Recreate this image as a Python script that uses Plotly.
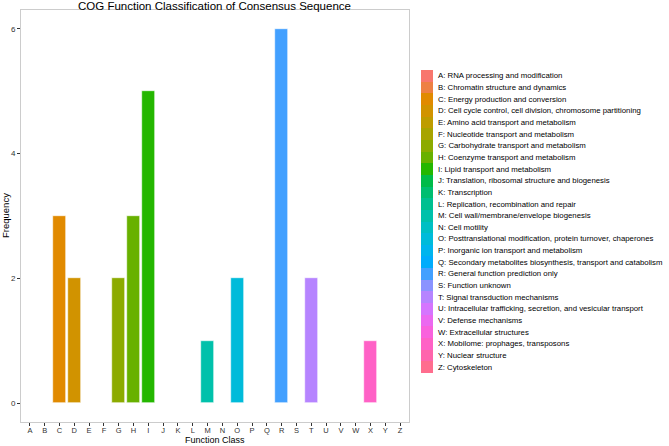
import math
import plotly.graph_objects as go

# ---- data ----
classes = list("ABCDEFGHIJKLMNOPQRSTUVWXYZ")
frequency = [0, 0, 3, 2, 0, 0, 2, 3, 5, 0, 0, 0, 1, 0, 2, 0, 0, 6, 0, 2, 0, 0, 0, 1, 0, 0]
descriptions = [
    "RNA processing and modification",
    "Chromatin structure and dynamics",
    "Energy production and conversion",
    "Cell cycle control, cell division, chromosome partitioning",
    "Amino acid transport and metabolism",
    "Nucleotide transport and metabolism",
    "Carbohydrate transport and metabolism",
    "Coenzyme transport and metabolism",
    "Lipid transport and metabolism",
    "Translation, ribosomal structure and biogenesis",
    "Transcription",
    "Replication, recombination and repair",
    "Cell wall/membrane/envelope biogenesis",
    "Cell motility",
    "Posttranslational modification, protein turnover, chaperones",
    "Inorganic ion transport and metabolism",
    "Secondary metabolites biosynthesis, transport and catabolism",
    "General function prediction only",
    "Function unknown",
    "Signal transduction mechanisms",
    "Intracellular trafficking, secretion, and vesicular transport",
    "Defense mechanisms",
    "Extracellular structures",
    "Mobilome: prophages, transposons",
    "Nuclear structure",
    "Cytoskeleton",
]
y_ticks = [0, 2, 4, 6]
legend_labels = [f"{c}: {d}" for c, d in zip(classes, descriptions)]


# ---- ggplot-like hue palette (HCL, l=65, c=100) ----
def hcl_to_hex(h, c=100.0, l=65.0):
    Xn, Yn, Zn = 95.047, 100.0, 108.883
    un = 4 * Xn / (Xn + 15 * Yn + 3 * Zn)
    vn = 9 * Yn / (Xn + 15 * Yn + 3 * Zn)
    u = c * math.cos(math.radians(h))
    v = c * math.sin(math.radians(h))
    Y = Yn * ((l + 16) / 116) ** 3 if l > 8 else Yn * l / 903.3
    up = u / (13 * l) + un
    vp = v / (13 * l) + vn
    X = Y * 9 * up / (4 * vp)
    Z = Y * (12 - 3 * up - 20 * vp) / (4 * vp)
    X, Y, Z = X / 100, Y / 100, Z / 100
    r = 3.2404542 * X - 1.5371385 * Y - 0.4985314 * Z
    g = -0.9692660 * X + 1.8760108 * Y + 0.0415560 * Z
    b = 0.0556434 * X - 0.2040259 * Y + 1.0572252 * Z

    def gam(t):
        t = 12.92 * t if t <= 0.0031308 else 1.055 * t ** (1 / 2.4) - 0.055
        return max(0, min(255, round(t * 255)))

    return "#%02X%02X%02X" % (gam(r), gam(g), gam(b))


n = len(classes)
colors = [hcl_to_hex(15 + i * 360.0 / n) for i in range(n)]

# ---- geometry (pixels) ----
W, H = 669, 446
ml, mr, mt, mb = 21, 0, 10, 24
pw, ph = W - ml - mr, H - mt - mb


def px_x(p):
    return (p - ml) / pw


def px_y(p):
    return (H - mb - p) / ph


FONT = "Liberation Sans, Arial, sans-serif"

fig = go.Figure()

fig.add_trace(go.Bar(
    x=classes, y=frequency, width=0.9,
    marker=dict(color=colors, line=dict(color="white", width=0.6)),
    hoverinfo="x+y", showlegend=False,
))

# legend color keys
fig.add_trace(go.Bar(
    x=[1] * n, y=legend_labels, orientation="h", width=1,
    marker=dict(color=colors, line=dict(width=0)),
    xaxis="x2", yaxis="y2", hoverinfo="y", showlegend=False,
))

annotations = []
for lab in legend_labels:
    annotations.append(dict(
        x=px_x(436), xref="paper", y=lab, yref="y2",
        text=lab, showarrow=False, xanchor="left", yanchor="middle",
        font=dict(family=FONT, size=7.8, color="#000000"),
    ))

annotations.append(dict(
    x=px_x(214.5), xref="paper", xanchor="center", y=1, yref="paper", yanchor="bottom", yshift=-3,
    borderpad=0,
    text="COG Function Classification of Consensus Sequence", showarrow=False,
    font=dict(family=FONT, size=11.5, color="#000000"),
))
annotations.append(dict(
    x=px_x(214.5), xref="paper", xanchor="center", y=0, yref="paper", yanchor="bottom",
    yshift=-mb, borderpad=0,
    text="Function Class", showarrow=False,
    font=dict(family=FONT, size=9, color="#000000"),
))
annotations.append(dict(
    x=0, xref="paper", xshift=-16, y=0.5, yref="paper", xanchor="center", yanchor="middle",
    text="Frequency", textangle=-90, showarrow=False,
    font=dict(family=FONT, size=9.5, color="#000000"),
))

fig.update_layout(
    width=W, height=H,
    margin=dict(l=ml, r=mr, t=mt, b=mb, pad=0),
    paper_bgcolor="white", plot_bgcolor="white",
    font=dict(family=FONT, size=8, color="#333333"),
    xaxis=dict(
        domain=[0, px_x(409)], range=[-0.6, n - 1 + 0.6],
        type="category", categoryorder="array", categoryarray=classes,
        showgrid=False, zeroline=False,
        showline=True, linecolor="#CCCCCC", linewidth=1, mirror=True,
        ticks="outside", ticklen=3, tickcolor="#333333", tickwidth=1,
        ticklabelstandoff=-2,
        tickfont=dict(size=7.5, color="#333333"), fixedrange=True,
    ),
    yaxis=dict(
        domain=[0, 1], range=[-0.3, 6.3], tickvals=y_ticks,
        showgrid=False, zeroline=False,
        showline=True, linecolor="#CCCCCC", linewidth=1, mirror=True,
        ticks="outside", ticklen=3, tickcolor="#333333", tickwidth=1,
        tickfont=dict(size=8, color="#333333"), fixedrange=True,
    ),
    xaxis2=dict(
        domain=[px_x(421), px_x(433)], range=[0, 1], anchor="y2",
        visible=False, fixedrange=True,
    ),
    yaxis2=dict(
        domain=[px_y(373), px_y(70)], range=[n - 0.5, -0.5], anchor="x2",
        type="category", categoryorder="array", categoryarray=legend_labels,
        visible=False, fixedrange=True,
    ),
    annotations=annotations,
    bargap=0,
)

fig.write_html(
    "out.html",
    config={"displayModeBar": False},
    post_script="document.body.style.margin='0';document.body.style.overflow='hidden';",
)
